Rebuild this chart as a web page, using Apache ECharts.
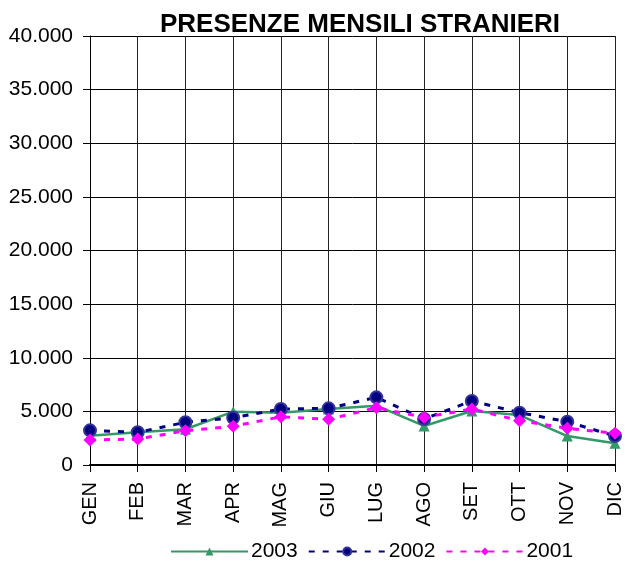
<!DOCTYPE html>
<html>
<head>
<meta charset="utf-8">
<script src="https://cdn.jsdelivr.net/npm/echarts@6/dist/echarts.min.js"></script>
<style>
  html,body{margin:0;padding:0;background:#fff}
  #main{width:625px;height:562px}
</style>
</head>
<body>
<div id="main"></div>
<script>
// mesi
let mesi=['GEN','FEB','MAR','APR','MAG','GIU','LUG','AGO','SET','OTT','NOV','DIC']
// presenze per anno
let anno2003=[2730,3050,3330,4970,4880,5220,5530,3640,5030,4660,2700,2020]
let anno2002=[3230,3050,3980,4410,5220,5280,6310,4290,5970,4880,4040,2700]
let anno2001=[2330,2420,3200,3610,4500,4260,5340,4440,5220,4130,3420,2950]

//formato 40.000
function fmt(v){
  return String(v).replace(/\B(?=(\d{3})+(?!\d))/g,'.')
}

var myChart=echarts.init(document.getElementById('main'))
option={
  animation:false,
  textStyle:{fontFamily:'Liberation Sans, Arial, sans-serif',color:'#000'},
  title:{
    text:'PRESENZE MENSILI STRANIERI',
    left:355,
    textAlign:'center',
    top:7,
    textStyle:{fontSize:26,fontWeight:'bold',color:'#000',fontFamily:'Liberation Sans, Arial, sans-serif'}
  },
  legend:{
    left:165,
    bottom:-5,
    itemWidth:77,
    itemHeight:10,
    itemGap:10,
    textStyle:{fontSize:21,color:'#000',padding:[0,0,0,-2]},
    data:['2003','2002','2001']
  },
  grid:{left:90,right:5,top:36,bottom:97,containLabel:false},
  xAxis:{
    type:'category',
    data:mesi,
    boundaryGap:false,
    axisLine:{lineStyle:{color:'#000',width:2}},
    axisTick:{show:true,alignWithLabel:true,length:7,lineStyle:{color:'#000'}},
    axisLabel:{rotate:90,fontSize:20,color:'#000',margin:17},
    splitLine:{show:true,lineStyle:{color:'#222',width:1}}
  },
  yAxis:{
    type:'value',
    min:0,max:40000,interval:5000,
    axisLine:{show:true,lineStyle:{color:'#000',width:1}},
    axisTick:{show:true,length:7,lineStyle:{color:'#000'}},
    axisLabel:{fontSize:21,color:'#000',margin:17,formatter:fmt},
    splitLine:{show:true,lineStyle:{color:'#000',width:1}}
  },
  series:[
    {
      name:'2003',type:'line',data:anno2003,
      symbol:'triangle',symbolSize:11,
      lineStyle:{color:'#339966',width:2.5},
      itemStyle:{color:'#339966'}
    },
    {
      name:'2002',type:'line',data:anno2002,
      symbol:'circle',symbolSize:12,
      lineStyle:{color:'#000080',width:3,type:[6,8]},
      itemStyle:{color:'#000080',borderColor:'#333399',borderWidth:2}
    },
    {
      name:'2001',type:'line',data:anno2001,
      symbol:'diamond',symbolSize:13,
      lineStyle:{color:'#FF00FF',width:3,type:[6,8]},
      itemStyle:{color:'#FF00FF'}
    }
  ]
}
myChart.setOption(option)
</script>
</body>
</html>
